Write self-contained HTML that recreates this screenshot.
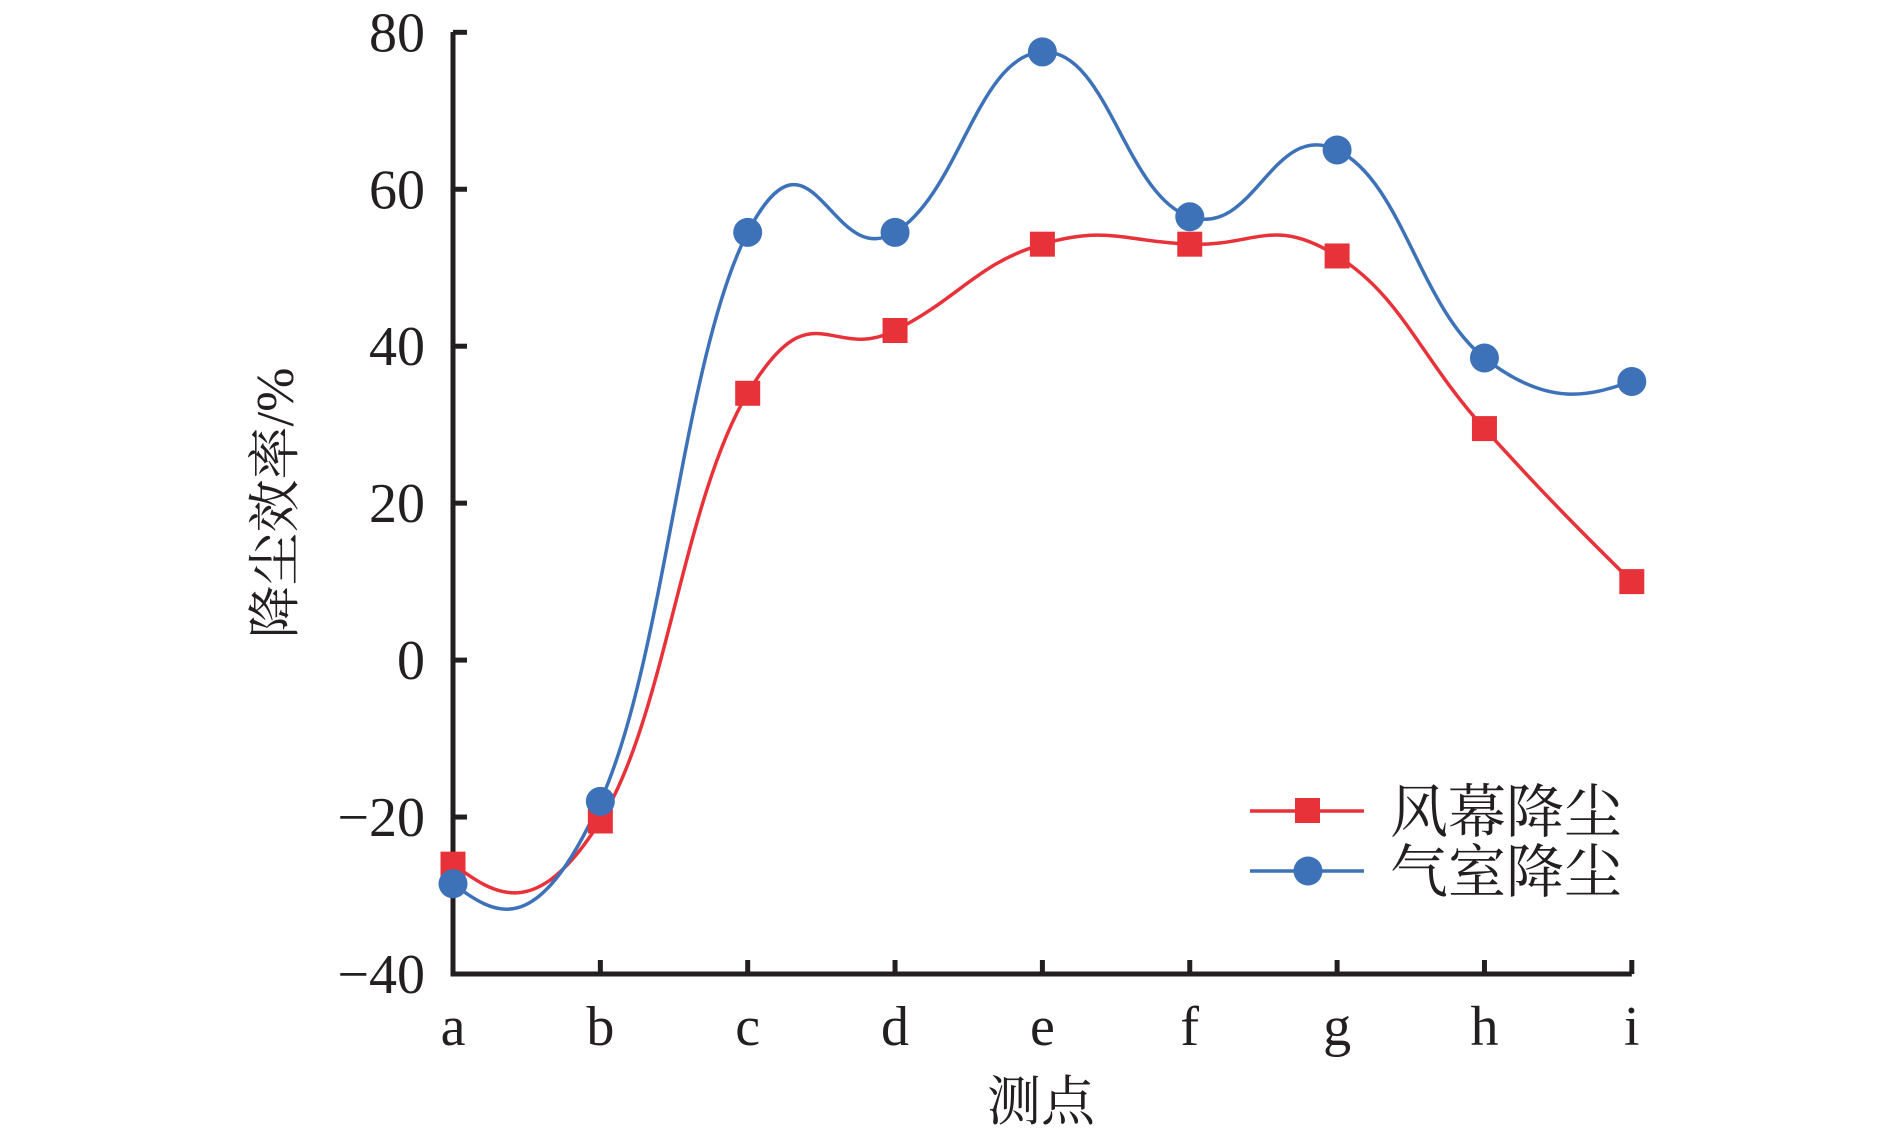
<!DOCTYPE html>
<html><head><meta charset="utf-8"><style>
html,body{margin:0;padding:0;background:#fff;}
svg{display:block;}
</style></head><body>
<svg id="c" width="1890" height="1139" xmlns="http://www.w3.org/2000/svg" font-family="'Liberation Serif','Noto Serif CJK SC',serif">
</svg>
<script>
const svg=document.getElementById('c');
const X0=453,DX=147.35,Y0=974,SY=941.7/120;
const X=i=>X0+i*DX, Y=v=>Y0-(v+40)*SY;
let h='';
h+=`<path d="M${X0},32 L${X0},${Y0} L${X(8)},${Y0}" fill="none" stroke="#231f20" stroke-width="5"/>`;
for(let v=-40;v<=80;v+=20){h+=`<line x1="${X0}" x2="${X0+14}" y1="${Y(v)}" y2="${Y(v)}" stroke="#231f20" stroke-width="5"/>`;
h+=`<text x="425" y="${Y(v)+19}" font-size="56" text-anchor="end" fill="#231f20">${v<0?'\u2212'+(-v):v}</text>`;}
const labs='abcdefghi';
for(let i=0;i<9;i++){if(i>0)h+=`<line x1="${X(i)}" x2="${X(i)}" y1="${Y0}" y2="${Y0-14}" stroke="#231f20" stroke-width="5"/>`;
h+=`<text x="${X(i)}" y="1045" font-size="56" text-anchor="middle" fill="#231f20">${labs[i]}</text>`;}
h+=`<text x="1041" y="1120" font-size="54" text-anchor="middle" fill="#231f20">测点</text>`;
h+=`<text transform="translate(293,503) rotate(-90)" font-size="53" text-anchor="middle" fill="#231f20">降尘效率/%</text>`;
const K=0.66;
function path(d){const p=d.map((v,i)=>[X(i),Y(v)]);const n=p.length;const m=[];
for(let i=1;i<n-1;i++)m[i]=[K*(p[i+1][0]-p[i-1][0]),K*(p[i+1][1]-p[i-1][1])];
m[0]=[(3*(p[1][0]-p[0][0])-m[1][0])/2,(3*(p[1][1]-p[0][1])-m[1][1])/2];
m[n-1]=[(3*(p[n-1][0]-p[n-2][0])-m[n-2][0])/2,(3*(p[n-1][1]-p[n-2][1])-m[n-2][1])/2];
let s=`M${p[0][0]},${p[0][1]}`;
for(let i=0;i<n-1;i++){const c1=[p[i][0]+m[i][0]/3,p[i][1]+m[i][1]/3],c2=[p[i+1][0]-m[i+1][0]/3,p[i+1][1]-m[i+1][1]/3];
s+=` C${c1[0]},${c1[1]} ${c2[0]},${c2[1]} ${p[i+1][0]},${p[i+1][1]}`;}return s;}
const red=[-26,-20.5,34,42,53,53,51.5,29.5,10], blue=[-28.5,-18,54.5,54.5,77.5,56.5,65,38.5,35.5];
const R='#e8323a',B='#3d72b9';
h+=`<path d="${path(red)}" fill="none" stroke="${R}" stroke-width="3.5"/>`;
h+=`<path d="${path(blue)}" fill="none" stroke="${B}" stroke-width="3.5"/>`;
red.forEach((v,i)=>h+=`<rect x="${X(i)-12.5}" y="${Y(v)-12.5}" width="25" height="25" fill="${R}"/>`);
blue.forEach((v,i)=>h+=`<circle cx="${X(i)}" cy="${Y(v)}" r="14.5" fill="${B}"/>`);
h+=`<line x1="1250" x2="1364" y1="811" y2="811" stroke="${R}" stroke-width="3.5"/><rect x="1295" y="798" width="25" height="25" fill="${R}"/>`;
h+=`<line x1="1250" x2="1364" y1="871" y2="871" stroke="${B}" stroke-width="3.5"/><circle cx="1308" cy="871" r="14.5" fill="${B}"/>`;
h+=`<text x="1390" y="832" font-size="58" fill="#231f20">风幕降尘</text>`;
h+=`<text x="1390" y="892" font-size="58" fill="#231f20">气室降尘</text>`;
svg.innerHTML=h;
</script>
</body></html>
